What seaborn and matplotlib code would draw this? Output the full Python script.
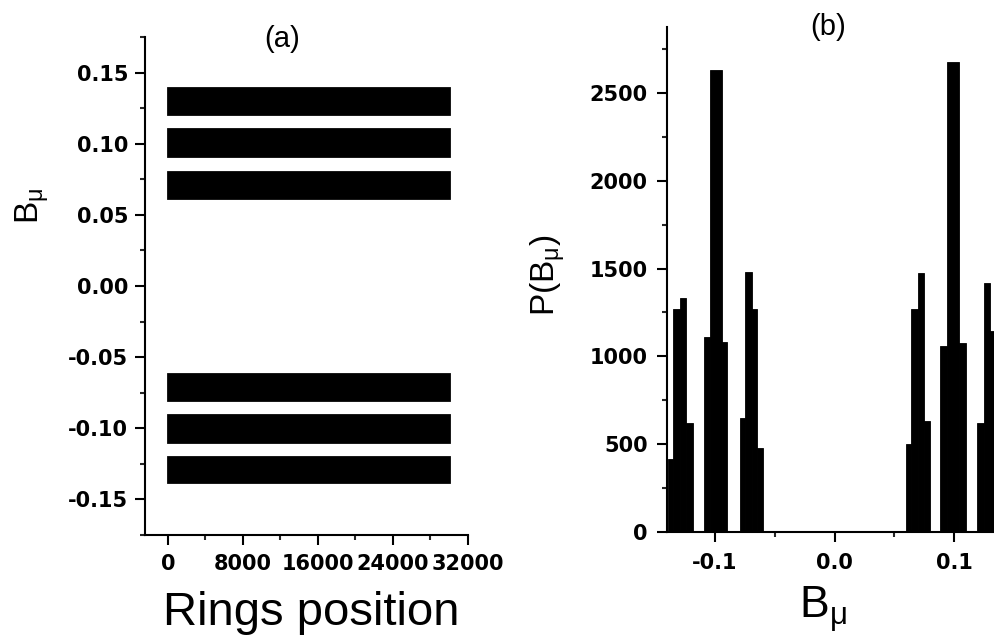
import numpy as np
import pandas as pd
import matplotlib
matplotlib.use("Agg")
import matplotlib.pyplot as plt
from matplotlib.ticker import MultipleLocator
import seaborn as sns

# panel (a): six bands of B_mu along the rings
band_centers = [0.130, 0.101, 0.071, -0.071, -0.100, -0.129]
band_spread = [0.018, 0.019, 0.018, 0.018, 0.019, 0.018]
ring_first = 0
ring_last = 30000

# panel (b): histogram P(B_mu); zero counts are the empty gaps
bin_edges = [-0.1394, -0.1347, -0.1292, -0.1242, -0.1186,
             -0.1094, -0.1039, -0.0944, -0.0903,
             -0.0792, -0.0750, -0.0694, -0.0650, -0.0597,
             0.0600, 0.0639, 0.0694, 0.0744, 0.0800,
             0.0883, 0.0939, 0.1044, 0.1100,
             0.1189, 0.1250, 0.1300, 0.1355]
bin_counts = [415, 1267, 1330, 619,
              0,
              1108, 2630, 1080,
              0,
              648, 1480, 1267, 477,
              0,
              500, 1270, 1475, 630,
              0,
              1060, 2678, 1074,
              0,
              619, 1415, 1145]

a_xticks = [0, 8000, 16000, 24000, 32000]
a_yticks = [-0.15, -0.10, -0.05, 0.00, 0.05, 0.10, 0.15]
b_xticks = [-0.1, 0.0, 0.1]
b_yticks = [0, 500, 1000, 1500, 2000, 2500]

sns.set_style("ticks")
plt.rcParams['font.family'] = ['DejaVu Sans']
plt.rcParams['axes.unicode_minus'] = False
plt.rcParams['mathtext.fontset'] = 'custom'
plt.rcParams['mathtext.rm'] = 'Liberation Sans'
plt.rcParams['mathtext.it'] = 'Liberation Sans:italic'
plt.rcParams['axes.linewidth'] = 1.5
plt.rcParams['axes.edgecolor'] = 'black'

fig = plt.figure(figsize=(9.95, 6.36), dpi=100)
ax_a = fig.add_axes([0.1457, 0.1588, 0.3246, 0.7830])
ax_b = fig.add_axes([0.6704, 0.1635, 0.3367, 0.7940])

# (a) bands
ax_a.barh(band_centers, width=ring_last - ring_first, left=ring_first,
          height=band_spread, color='black', edgecolor='black', linewidth=2)
ax_a.set_xlim(-2450, 32000)
ax_a.set_ylim(-0.175, 0.175)
ax_a.set_xticks(a_xticks)
ax_a.set_xticklabels([str(t) for t in a_xticks])
ax_a.set_yticks(a_yticks)
ax_a.set_yticklabels(['%.2f' % t for t in a_yticks])
ax_a.xaxis.set_minor_locator(MultipleLocator(4000))
ax_a.yaxis.set_minor_locator(MultipleLocator(0.025))
ax_a.tick_params(axis='y', which='major', pad=5)
ax_a.tick_params(axis='x', which='major', pad=7)

# (b) histogram
edges = np.array(bin_edges)
hist_df = pd.DataFrame({'B': (edges[:-1] + edges[1:]) / 2, 'count': bin_counts})
sns.histplot(data=hist_df, x='B', weights='count', bins=bin_edges,
             color='black', alpha=1, edgecolor='black', linewidth=0.6, ax=ax_b)
ax_b.set_xlim(-0.14, 0.14)
ax_b.set_ylim(0, 2875)
ax_b.set_xticks(b_xticks)
ax_b.set_xticklabels(['%.1f' % t for t in b_xticks])
ax_b.set_yticks(b_yticks)
ax_b.set_yticklabels([str(t) for t in b_yticks])
ax_b.xaxis.set_minor_locator(MultipleLocator(0.05))
ax_b.yaxis.set_minor_locator(MultipleLocator(250))
ax_b.set_xlabel('')
ax_b.set_ylabel('')
ax_b.tick_params(axis='y', which='major', pad=7)
ax_b.tick_params(axis='x', which='major', pad=8)

for ax in (ax_a, ax_b):
    sns.despine(ax=ax)
    ax.tick_params(which='major', length=7, width=1.5, direction='out',
                   labelsize=15, colors='black')
    ax.tick_params(which='minor', length=3.5, width=1.5, direction='out')
    for lab in ax.get_xticklabels() + ax.get_yticklabels():
        lab.set_fontweight('bold')
        lab.set_color('black')

lab_font = dict(family='Liberation Sans', color='black')
fig.text(282 / 995, 1 - 39 / 636, '(a)', fontsize=21, ha='center', va='center', **lab_font)
fig.text(828 / 995, 1 - 27 / 636, '(b)', fontsize=21, ha='center', va='center', **lab_font)
fig.text(311 / 995, 1 - 625 / 636, 'Rings position', fontsize=34,
         ha='center', va='baseline', **lab_font)
fig.text(823 / 995, 1 - 619 / 636, r'$\mathrm{B_{μ}}$', fontsize=32,
         ha='center', va='baseline', **lab_font)
fig.text(33 / 995, 1 - 206 / 636, r'$\mathrm{B_{μ}}$', fontsize=24, rotation=90,
         ha='center', va='center', **lab_font)
fig.text(548 / 995, 1 - 275 / 636, r'$\mathrm{P(B_{μ})}$', fontsize=24, rotation=90,
         ha='center', va='center', **lab_font)

fig.savefig('out.png', dpi=100, facecolor='white')
